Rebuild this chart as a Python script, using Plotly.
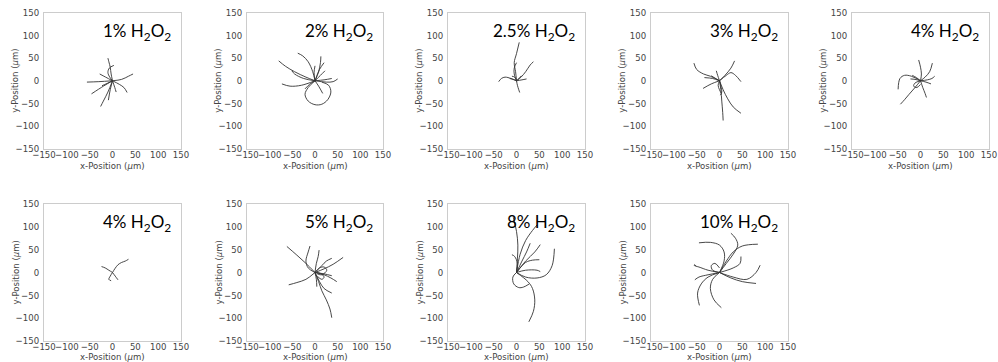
import plotly.graph_objects as go

# ---------------- data (µm) ----------------
panel_titles = ["1%", "2%", "2.5%", "3%", "4%", "4%", "5%", "8%", "10%"]
tick_vals = [-150, -100, -50, 0, 50, 100, 150]
x_title = "x-Position (<i>μ</i>m)"
y_title = "y-Position (<i>μ</i>m)"

tracks_1 = [
    ([0, -3, -5, -8, -10], [0, 15, 30, 42, 50]),
    ([0, -6, -10, -7, 3], [0, 8, 18, 28, 34]),
    ([0, -15, -28], [0, 8, 15]),
    ([0, 20, 35, 45], [0, 3, 10, 15]),
    ([0, -30, -56], [0, -2, -3]),
    ([0, -20, -46], [0, -12, -29]),
    ([0, -10, -20, -26], [0, -25, -45, -57]),
    ([0, -5, -9], [0, -20, -43]),
    ([0, 15, 25, 32], [0, -8, -15, -26]),
    ([0, -12, -23], [0, -6, -11]),
    ([0, 5, 8], [0, -15, -25]),
]

tracks_2 = [
    ([0, -20, -45, -65, -80], [0, 8, 20, 32, 44]),
    ([0, -5, -15, -27, -38], [0, 20, 42, 55, 61]),
    ([0, 8, 12, 13], [0, 20, 40, 54]),
    ([0, -2, 0], [0, 18, 33]),
    ([0, -25, -45, -51], [0, 5, 15, 22]),
    ([0, -30, -55, -73], [0, -10, -12, -7]),
    ([0, 25, 40, 50], [0, -3, -2, 4]),
    ([0, 20, 37], [0, 2, 5]),
    ([0, 8, 17], [0, -12, -28]),
    ([0, 12, 22], [0, 12, 22]),
    ([0, -15, -22, -15, 0, 15, 28, 35, 30, 15], [0, -15, -30, -45, -53, -52, -42, -25, -10, -3]),
    ([0, -12, -22], [0, -8, -18]),
    ([0, 10, 20], [0, 25, 40]),
]

tracks_3 = [
    ([0, -2, -5, 0, 6], [0, 20, 40, 60, 85]),
    ([0, -5, -5, 0], [0, 15, 28, 40]),
    ([0, 10, 20, 30, 37], [0, 8, 20, 35, 42]),
    ([0, -12, -25, -33, -39], [0, 5, 8, 5, -2]),
    ([0, 2, 5, 7], [0, -10, -20, -26]),
    ([0, -8, -15], [0, 3, 5]),
    ([0, 12, 22], [0, 2, 4]),
    ([0, 6, 11], [0, 6, 11]),
    ([0, -4, -10], [0, 8, 10]),
]

tracks_4 = [
    ([0, -20, -35, -50, -56], [0, 10, 15, 25, 39]),
    ([0, 12, 25, 33], [0, 12, 28, 44]),
    ([0, 15, 25, 35, 47], [0, 12, 18, 12, -2]),
    ([0, -18, -36], [0, -7, -17]),
    ([0, 3, 5, 7, 8], [0, -20, -45, -70, -88]),
    ([0, 8, 18, 30, 47], [0, -20, -40, -58, -72]),
    ([0, -4, -7], [0, 12, 22]),
    ([0, -10, -18], [0, 6, 11]),
    ([0, -15, -33], [0, 5, 7]),
    ([0, 3, 5, 2], [0, -12, -25, -32]),
    ([0, -3, 0, 4], [0, -10, -20, -28]),
]

tracks_5a = [
    ([0, 2, 0, -4], [0, 15, 30, 46]),
    ([0, 10, 20, 26], [0, 8, 20, 39]),
    ([0, 15, 25, 31], [0, 2, 5, 10]),
    ([0, 12, 23], [0, -3, -7]),
    ([0, 5, 10, 13], [0, -15, -28, -37]),
    ([0, -12, -25, -35, -44], [0, -15, -30, -42, -52]),
    ([0, -20, -35, -45, -49], [0, 10, 12, 5, -19]),
    ([0, -12, -15, -8, 0], [0, -5, -12, -15, -8]),
    ([0, -12, -22], [0, 3, 4]),
    ([0, -9, -18], [0, 7, 12]),
]

tracks_4b = [
    ([0, -8, -16, -24], [0, 5, 10, 13]),
    ([0, 5, 12, 20, 28, 35], [0, 8, 17, 22, 25, 29]),
    ([0, -5, -8, -3], [0, -8, -15, -18]),
    ([0, 6, 12], [0, -8, -16]),
]

tracks_5 = [
    ([0, -20, -40, -62], [0, 20, 38, 57]),
    ([0, -15, -20, -15, -11], [0, 10, 25, 45, 58]),
    ([0, 3, 7, 9], [0, 20, 35, 49]),
    ([0, 15, 25, 37], [0, 15, 25, 31]),
    ([0, 20, 40, 62], [0, 8, 18, 33]),
    ([0, 20, 35, 48], [0, -5, -12, -20]),
    ([0, 20, 37], [0, -3, -7]),
    ([0, 10, 20, 37], [0, -20, -35, -45]),
    ([0, 8, 15, 25, 33, 37], [0, -20, -40, -60, -80, -99]),
    ([0, -20, -40, -58], [0, -15, -22, -27]),
    ([0, 3, 4], [0, -15, -31]),
    ([0, 10, 20, 26, 15, 5], [0, 10, 12, 5, -5, -3]),
    ([0, 12, 20, 15, 5], [0, -2, -10, -15, -8]),
]

tracks_8 = [
    ([0, 2, 3, 0, -7], [0, 30, 60, 90, 121]),
    ([0, 8, 20, 35, 45], [0, 40, 70, 92, 104]),
    ([0, 12, 22, 30], [0, 25, 45, 64]),
    ([0, 20, 40, 52], [0, 25, 45, 61]),
    ([0, 2, -4, -10], [0, 20, 35, 39]),
    ([0, 20, 35, 50], [0, 22, 27, 28]),
    ([0, 20, 45, 52], [0, 5, 5, 2]),
    ([0, 20, 45, 65, 78, 83], [0, -10, -12, -5, 15, 52]),
    ([0, -8, -6, 5, 15, 28], [0, -10, -25, -33, -32, -25]),
    ([0, 25, 35, 40, 37, 27], [0, -20, -35, -60, -85, -108]),
]

tracks_10 = [
    ([0, -25, -45, -52, -56, -54, -52], [0, 5, 12, 14, 16, 17, 14]),
    ([0, 10, 10, 0, -20, -45], [0, 25, 45, 60, 66, 65]),
    ([0, 15, 30, 40, 35, 25], [0, 20, 40, 60, 75, 86]),
    ([0, 15, 30, 50, 84], [0, 25, 45, 58, 62]),
    ([0, 30, 45, 47], [0, 10, 20, 35]),
    ([0, 30, 60, 80, 89], [0, -10, -15, 0, 16]),
    ([0, 25, 50, 80], [0, -12, -20, -24]),
    ([0, -15, -20, -12, 4], [0, -15, -35, -60, -77]),
    ([0, -25, -40, -48, -44], [0, -10, -25, -45, -72]),
    ([0, -25, -45, -54], [0, -5, -10, -16]),
    ([0, -15, -18, -10, 0], [0, 5, 15, 20, 10]),
]

panel_tracks = [tracks_1, tracks_2, tracks_3, tracks_4, tracks_5a,
                tracks_4b, tracks_5, tracks_8, tracks_10]

# ---------------- layout geometry ----------------
W, H = 998, 362
col_px = [(44, 181), (247, 383), (448, 585), (651, 788), (852, 989)]
row_px = [(13, 148.5), (204, 341)]
xtitle_gap = [17, 15]

fig = go.Figure()
layout = dict(
    width=W, height=H, margin=dict(l=0, r=0, t=0, b=0),
    paper_bgcolor="white", plot_bgcolor="white", showlegend=False,
    annotations=[],
)

tick_font = dict(family="DejaVu Sans Condensed, DejaVu Sans", size=9.5, color="#444")
title_font = dict(family="DejaVu Sans Condensed, DejaVu Sans", size=9.5, color="#444")

for i, tracks in enumerate(panel_tracks):
    r, c = divmod(i, 5)
    n = i + 1
    xs = "" if n == 1 else str(n)
    x0, x1 = col_px[c]
    yt, yb = row_px[r]
    xdom = [x0 / W, x1 / W]
    ydom = [1 - yb / H, 1 - yt / H]
    for tx, ty in tracks:
        fig.add_trace(go.Scatter(
            x=tx, y=ty, mode="lines",
            line=dict(color="#333", width=0.9, shape="spline", smoothing=1.0),
            xaxis="x" + xs, yaxis="y" + xs, hoverinfo="skip",
        ))
    layout["xaxis" + xs] = dict(
        domain=xdom, anchor="y" + xs, range=[-150, 150], tickvals=tick_vals,
        showgrid=False, zeroline=False, showline=True, mirror=True,
        linecolor="#cccccc", linewidth=1, ticks="", tickfont=tick_font,
        tickangle=0, ticklabelstandoff=-3, automargin=False,
        ticklabeloverflow="allow",
    )
    layout["yaxis" + xs] = dict(
        domain=ydom, anchor="x" + xs, range=[-150, 150], tickvals=tick_vals,
        showgrid=False, zeroline=False, showline=True, mirror=True,
        linecolor="#cccccc", linewidth=1, ticks="", tickfont=tick_font,
        ticklabelstandoff=2, automargin=False, ticklabeloverflow="allow",
    )
    # panel title
    layout["annotations"].append(dict(
        text=panel_titles[i] + " H<sub>2</sub>O<sub>2</sub>",
        xref="paper", yref="paper",
        x=(x1 - 8) / W, y=1 - (yt + 5) / H,
        xanchor="right", yanchor="top", showarrow=False,
        font=dict(family="Lato", size=17, color="black"),
    ))
    # x-axis title
    layout["annotations"].append(dict(
        text=x_title, xref="paper", yref="paper",
        x=(x0 + x1) / 2 / W, y=1 - (yb + xtitle_gap[r]) / H,
        xanchor="center", yanchor="middle", showarrow=False,
        font=title_font,
    ))
    # y-axis title
    layout["annotations"].append(dict(
        text=y_title, xref="paper", yref="paper", textangle=-90,
        x=(x0 - 29) / W, y=1 - (yt + yb) / 2 / H,
        xanchor="center", yanchor="middle", showarrow=False,
        font=title_font,
    ))

fig.update_layout(**layout)
fig.write_html("out.html")
